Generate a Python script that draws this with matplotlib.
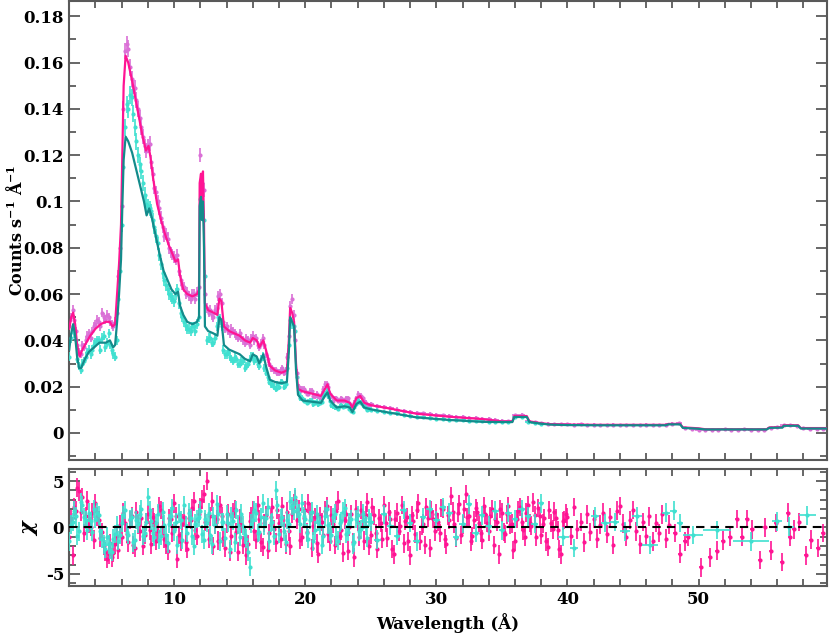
import numpy as np
import matplotlib.pyplot as plt
from matplotlib.ticker import MultipleLocator, FormatStrFormatter

plt.rcParams['font.family'] = ['DejaVu Serif']
plt.rcParams['font.weight'] = 'bold'
plt.rcParams['axes.labelweight'] = 'bold'
plt.rcParams['mathtext.fontset'] = 'dejavuserif'
plt.rcParams['axes.unicode_minus'] = False

# ===== colours =====
c_mdat = '#DA70D6'   # orchid data
c_mmod = '#FF1493'   # deep pink model
c_cdat = '#40E0D0'   # turquoise data
c_cmod = '#138B8B'   # teal model

# ===== model curves (wavelength, counts/s/A) =====
mod_m_wl = [2.0, 2.15, 2.3, 2.45, 2.6, 2.8, 3.0, 3.3, 3.6, 4.0, 4.4, 4.8, 5.1, 5.3, 5.5,
            5.65, 5.8, 5.95, 6.05, 6.15, 6.3, 6.5, 6.8, 7.0, 7.3, 7.6, 7.85, 8.05, 8.2,
            8.4, 8.7, 9.0, 9.3, 9.6, 9.9, 10.1, 10.3, 10.45, 10.7, 11.0, 11.4, 11.75,
            11.9, 11.95, 12.05, 12.12, 12.2, 12.28, 12.35, 12.6, 13.0, 13.3, 13.45, 13.6,
            13.8, 14.2, 14.6, 15.0, 15.4, 15.8, 16.0, 16.3, 16.5, 16.8, 17.0, 17.3, 17.7,
            18.2, 18.6, 18.75, 18.85, 19.0, 19.15, 19.3, 19.45, 19.8, 20.5, 21.2, 21.5,
            21.7, 21.9, 22.4, 23.0, 23.4, 23.6, 23.9, 24.2, 24.5, 25.0, 26.5, 28.5, 31.0,
            33.5, 35.0, 35.8, 35.95, 36.9, 37.1, 38.0, 38.7, 40.0, 42.5, 47.5, 47.7, 48.6,
            48.8, 50.0, 50.5, 55.2, 55.4, 56.4, 56.5, 57.6, 57.8, 59.8]
mod_m = [0.045, 0.050, 0.052, 0.047, 0.038, 0.033, 0.036, 0.039, 0.042, 0.045, 0.047, 0.048,
         0.048, 0.046, 0.047, 0.060, 0.073, 0.090, 0.120, 0.150, 0.163, 0.160, 0.152, 0.146,
         0.137, 0.128, 0.122, 0.124, 0.119, 0.110, 0.099, 0.092, 0.086, 0.081, 0.077, 0.074,
         0.075, 0.068, 0.062, 0.060, 0.059, 0.060, 0.062, 0.108, 0.112, 0.100, 0.113, 0.090,
         0.056, 0.053, 0.052, 0.051, 0.058, 0.057, 0.046, 0.044, 0.043, 0.042, 0.040, 0.039,
         0.041, 0.040, 0.037, 0.040, 0.036, 0.029, 0.027, 0.026, 0.027, 0.040, 0.054, 0.052,
         0.048, 0.030, 0.019, 0.018, 0.017, 0.016, 0.019, 0.021, 0.017, 0.014, 0.014, 0.013,
         0.011, 0.015, 0.016, 0.013, 0.012, 0.0105, 0.0083, 0.0070, 0.0060, 0.0050, 0.0050,
         0.0073, 0.0073, 0.0050, 0.0042, 0.0038, 0.0036, 0.0035, 0.0035, 0.0039, 0.0039,
         0.0024, 0.0020, 0.0016, 0.0016, 0.0024, 0.0025, 0.0033, 0.0033, 0.0021, 0.0021]

mod_c_wl = [2.0, 2.15, 2.3, 2.45, 2.6, 2.75, 2.9, 3.2, 3.5, 3.9, 4.3, 4.8, 5.1, 5.35, 5.5,
            5.65, 5.8, 5.95, 6.05, 6.15, 6.3, 6.5, 6.8, 7.1, 7.4, 7.7, 7.9, 8.1, 8.3, 8.6,
            8.9, 9.2, 9.5, 9.8, 10.1, 10.3, 10.45, 10.7, 11.0, 11.4, 11.75, 11.9, 11.95,
            12.05, 12.12, 12.2, 12.28, 12.35, 12.6, 13.0, 13.3, 13.45, 13.6, 13.8, 14.2,
            14.6, 15.0, 15.4, 15.8, 16.0, 16.3, 16.5, 16.8, 17.0, 17.3, 17.7, 18.2, 18.6,
            18.75, 18.85, 19.0, 19.15, 19.3, 19.45, 19.8, 20.5, 21.2, 21.5, 21.7, 21.9, 22.4,
            23.0, 23.4, 23.6, 23.9, 24.2, 24.5, 25.0, 26.5, 28.5, 31.0, 33.5, 35.0, 35.8,
            35.95, 36.9, 37.1, 38.0, 38.7, 40.0, 42.5, 47.5, 47.7, 48.6, 48.8, 50.0, 50.5,
            55.2, 55.4, 56.4, 56.5, 57.6, 57.8, 59.8]
mod_c = [0.036, 0.043, 0.047, 0.042, 0.033, 0.028, 0.028, 0.032, 0.035, 0.037, 0.039, 0.039,
         0.040, 0.037, 0.038, 0.048, 0.060, 0.075, 0.098, 0.118, 0.128, 0.126, 0.121, 0.114,
         0.107, 0.100, 0.094, 0.097, 0.093, 0.085, 0.077, 0.070, 0.066, 0.062, 0.060, 0.061,
         0.055, 0.051, 0.048, 0.047, 0.048, 0.050, 0.098, 0.102, 0.092, 0.100, 0.080, 0.046,
         0.044, 0.043, 0.042, 0.050, 0.049, 0.038, 0.036, 0.035, 0.034, 0.032, 0.031, 0.034,
         0.033, 0.030, 0.034, 0.029, 0.023, 0.022, 0.0215, 0.022, 0.035, 0.050, 0.048, 0.046,
         0.027, 0.0165, 0.014, 0.0135, 0.013, 0.016, 0.0175, 0.014, 0.011, 0.0115, 0.011,
         0.009, 0.0125, 0.0135, 0.011, 0.0102, 0.0087, 0.0067, 0.0056, 0.0048, 0.0047, 0.0047,
         0.0069, 0.0069, 0.0047, 0.0040, 0.0036, 0.0034, 0.0033, 0.0033, 0.0037, 0.0037,
         0.0022, 0.0018, 0.0015, 0.0015, 0.0022, 0.0023, 0.0031, 0.0031, 0.0019, 0.0019]

# ===== data points =====
wl_a = np.arange(2.0, 25.0, 0.25)       # bin centres, first set
wl_a2 = np.arange(2.125, 25.0, 0.25)    # interleaved set
dat_m_a = [0.046, 0.053, 0.044, 0.035,
           0.038, 0.040, 0.043, 0.044,
           0.047, 0.048, 0.052, 0.049,
           0.050, 0.047, 0.048, 0.068,
           0.098, 0.165, 0.166, 0.153,
           0.149, 0.140, 0.132, 0.124,
           0.124, 0.117, 0.106, 0.100,
           0.093, 0.085, 0.084, 0.078,
           0.076, 0.077, 0.066, 0.063,
           0.061, 0.058, 0.060, 0.061,
           0.120, 0.105, 0.054, 0.053,
           0.050, 0.054, 0.060, 0.048,
           0.046, 0.043, 0.044, 0.042,
           0.043, 0.040, 0.041, 0.038,
           0.042, 0.041, 0.037, 0.041,
           0.034, 0.030, 0.028, 0.027,
           0.026, 0.028, 0.027, 0.042,
           0.058, 0.040, 0.020, 0.019,
           0.018, 0.017, 0.018, 0.016,
           0.016, 0.017, 0.021, 0.020,
           0.016, 0.015, 0.014, 0.015,
           0.014, 0.015, 0.012, 0.013,
           0.017, 0.016, 0.014, 0.012]
dat_m_a2 = [0.050, 0.049, 0.038, 0.034,
            0.037, 0.042, 0.041, 0.046,
            0.049, 0.046, 0.050, 0.051,
            0.048, 0.046, 0.052, 0.080,
            0.140, 0.168, 0.158, 0.150,
            0.144, 0.136, 0.128, 0.122,
            0.125, 0.112, 0.104, 0.097,
            0.089, 0.086, 0.080, 0.077,
            0.075, 0.070, 0.064, 0.060,
            0.059, 0.060, 0.058, 0.063,
            0.108, 0.060, 0.052, 0.051,
            0.053, 0.059, 0.056, 0.045,
            0.044, 0.045, 0.043, 0.041,
            0.041, 0.039, 0.040, 0.041,
            0.040, 0.038, 0.039, 0.038,
            0.032, 0.028, 0.027, 0.026,
            0.027, 0.026, 0.033, 0.055,
            0.051, 0.026, 0.018, 0.019,
            0.017, 0.018, 0.016, 0.017,
            0.015, 0.019, 0.021, 0.017,
            0.014, 0.015, 0.014, 0.014,
            0.015, 0.013, 0.011, 0.015,
            0.016, 0.015, 0.013, 0.012]
dat_c_a = [0.033, 0.045, 0.040, 0.029,
           0.030, 0.033, 0.036, 0.036,
           0.039, 0.040, 0.041, 0.037,
           0.043, 0.036, 0.033, 0.058,
           0.090, 0.132, 0.140, 0.145,
           0.132, 0.120, 0.113, 0.103,
           0.098, 0.096, 0.089, 0.082,
           0.073, 0.066, 0.062, 0.059,
           0.057, 0.062, 0.052, 0.048,
           0.045, 0.044, 0.046, 0.047,
           0.101, 0.092, 0.040, 0.041,
           0.039, 0.046, 0.049, 0.036,
           0.034, 0.033, 0.031, 0.032,
           0.030, 0.031, 0.029, 0.032,
           0.033, 0.032, 0.029, 0.033,
           0.026, 0.022, 0.021, 0.019,
           0.020, 0.022, 0.021, 0.038,
           0.047, 0.044, 0.017, 0.015,
           0.014, 0.0135, 0.014, 0.013,
           0.0125, 0.0135, 0.017, 0.016,
           0.012, 0.011, 0.0105, 0.012,
           0.0115, 0.012, 0.0095, 0.011,
           0.014, 0.013, 0.0115, 0.010]
dat_c_a2 = [0.041, 0.043, 0.032, 0.027,
            0.031, 0.035, 0.034, 0.038,
            0.040, 0.036, 0.042, 0.039,
            0.038, 0.034, 0.040, 0.070,
            0.115, 0.142, 0.146, 0.138,
            0.126, 0.116, 0.108, 0.099,
            0.097, 0.092, 0.085, 0.077,
            0.069, 0.064, 0.060, 0.058,
            0.060, 0.056, 0.050, 0.046,
            0.045, 0.046, 0.044, 0.050,
            0.096, 0.068, 0.041, 0.039,
            0.041, 0.050, 0.046, 0.034,
            0.035, 0.032, 0.033, 0.030,
            0.031, 0.028, 0.030, 0.033,
            0.031, 0.030, 0.032, 0.028,
            0.024, 0.021, 0.020, 0.021,
            0.022, 0.020, 0.028, 0.049,
            0.046, 0.024, 0.015, 0.014,
            0.013, 0.014, 0.0125, 0.0135,
            0.013, 0.016, 0.018, 0.014,
            0.0115, 0.011, 0.0115, 0.0112,
            0.0118, 0.0105, 0.009, 0.0125,
            0.0135, 0.012, 0.0108, 0.0103]

wl_m_b = np.arange(25.0, 60.0, 0.5)     # 0.5 A bins
dat_m_b = [0.0124, 0.0117, 0.0112, 0.0106, 0.0101, 0.0095, 0.0091, 0.0088, 0.0084, 0.0082,
           0.0079, 0.0076, 0.0073, 0.0071, 0.0068, 0.0066, 0.0064, 0.0062, 0.0060, 0.0058,
           0.0053, 0.0051, 0.0076, 0.0079, 0.0052, 0.0047, 0.0043, 0.0040, 0.0039, 0.0038,
           0.0037, 0.0036, 0.0037, 0.0035, 0.0036, 0.0035, 0.0034, 0.0036, 0.0035, 0.0034,
           0.0035, 0.0034, 0.0036, 0.0035, 0.0034, 0.0036, 0.0040, 0.0041, 0.0022, 0.0019,
           0.0013, 0.0013, 0.0014, 0.0013, 0.0015, 0.0014, 0.0013, 0.0015, 0.0014, 0.0013,
           0.0014, 0.0022, 0.0027, 0.0034, 0.0033, 0.0030, 0.0020, 0.0019, 0.0018, 0.0019]
wl_c_b = np.arange(25.0, 38.25, 0.5)
dat_c_b = [0.0100, 0.0096, 0.0091, 0.0088, 0.0084, 0.0079, 0.0075, 0.0071, 0.0067, 0.0064,
           0.0062, 0.0060, 0.0058, 0.0056, 0.0054, 0.0052, 0.0051, 0.0050, 0.0049, 0.0048,
           0.0047, 0.0046, 0.0068, 0.0070, 0.0046, 0.0043, 0.0040]

# ===== residuals (chi) =====
rwl_m = np.arange(2.0, 48.0, 0.25)
res_m = [-1.0, -3.0, 1.8, 3.9, 3.3, 1.2, 0.4, 1.6,
         2.6, 0.8, -0.5, -2.6, -2.9, -3.2, -1.8, -2.4,
         -1.0, 0.5, -1.6, 1.2, -2.2, 0.3, 1.0, -0.8,
         1.4, -1.8, 0.6, -0.4, 1.9, -1.2, -2.5, 0.9,
         2.6, -3.4, -1.5, 1.1, -2.3, 0.8, 2.8, -0.9,
         2.2, 3.6, 5.0, 1.2, -2.0, 0.9, 2.4, -1.1,
         0.4, -2.6, 1.6, -0.5, 1.0, -1.9, -3.0, 0.7,
         1.8, -1.3, 0.9, -2.1, 1.3, -0.6, 2.2, -1.6,
         0.5, 2.3, -1.8, -0.4, 1.5, 3.0, 2.0, -1.0,
         1.9, 2.6, -2.2, 1.1, -2.8, 0.6, 1.8, -0.7,
         1.3, -1.9, 2.9, -0.3, 0.8, -2.5, 1.4, -3.2,
         0.6, 1.9, -1.4, 2.7, -0.8, 1.3, -2.3, 0.5,
         2.4, -1.1, 0.9, -2.9, 1.6, 0.2, -1.7, 1.1,
         -3.0, 0.7, 1.9, -1.4, 0.4, 2.2, -2.2, 0.9,
         1.5, -0.6, 2.0, -1.8, 0.8, 1.7, -1.1, 2.5,
         0.3, 3.6, 1.2, -0.9, 2.1, 0.5, -1.3, 1.4,
         -0.4, 2.0, 0.9, -2.9, 1.6, -0.7, 2.3, 0.4,
         -1.5, 1.8, 0.6, -1.0, 2.4, 0.2, 1.3, 2.1,
         -0.8, 1.0, -2.1, 0.5, 1.7, -0.3, -2.9, 0.8,
         1.1, -0.9, 2.2, -0.2, 0.6, -1.6, 1.4, -0.5,
         0.9, -1.2, 0.3, 1.6, -0.7, 1.1, -1.9, 1.8,
         2.3, 0.4, -1.0, 0.8, 1.9, -0.4, -1.8, 0.6,
         -0.9, 1.2, -1.5, 0.5, -0.6, 1.4, -1.2, 0.3]
rwl_m2 = np.arange(2.125, 40.0, 0.25)
res_m2 = [0.9, 2.2, 4.3, 1.7, -0.6, 2.9, 0.1, -1.3,
          1.2, -1.1, -2.0, -3.4, -1.7, -2.7, -0.9, 0.3,
          1.6, -0.7, 0.8, -1.9, 1.7, -0.4, -2.0, 0.6,
          -0.3, 1.1, -1.4, 2.3, 0.2, -1.9, 1.0, -0.6,
          1.2, -0.8, 0.4, -1.6, 1.0, 2.1, -0.3, 1.5,
          3.0, 0.6, -1.2, 2.8, 0.3, -1.4, 1.2, -2.2,
          1.5, -0.9, 2.0, -2.6, 0.4, -1.1, -1.8, 1.2,
          -0.4, 2.4, -1.6, 0.5, -2.4, 1.1, -0.2, 1.9,
          -1.2, 0.3, 1.7, -2.0, 2.6, 0.8, -1.3, 1.0,
          -0.5, 1.6, 0.2, -1.7, 1.2, -0.8, 2.3, -1.5,
          0.4, 1.8, -0.9, -2.7, 1.5, 0.1, -1.6, 2.0,
          -1.0, 0.8, 1.3, -2.0, 2.2, -0.6, 1.0, -1.2,
          0.5, 1.7, -2.3, 0.9, -0.4, 2.4, 0.7, -1.5,
          1.3, -0.7, 2.6, 0.2, -1.9, 1.0, 1.8, -0.4,
          0.6, 2.1, -1.2, 1.3, 3.4, 0.4, 1.6, -0.8,
          2.0, 1.1, -1.5, 0.8, 1.7, -0.6, 2.3, 0.5,
          1.2, -1.9, 0.6, 2.0, -0.5, 1.4, 0.3, -2.4,
          0.9, 2.2, -0.3, 1.6, 0.5, 2.7, -1.0, 1.2,
          0.4, -1.5, 1.9, -0.2, 1.0, -2.3, 0.7, 1.5]
# sparse long-wavelength bins
rwl_m_tail = [48.2, 48.6, 48.95, 49.2, 50.2, 50.9, 51.4, 51.85, 52.4, 52.9, 53.3, 53.7, 54.1,
              54.7, 55.1, 55.5, 55.9, 56.4, 56.8, 57.0, 57.3, 57.7, 58.2, 58.6, 59.1, 59.5]
res_m_tail = [-0.6, -2.8, -1.5, -1.0, -4.3, -3.2, -2.5, -1.4, -1.0, 0.9, -1.0, 0.9, -0.2,
              -3.5, 0.0, -2.5, 0.5, -3.7, 1.6, -1.0, -0.2, 0.6, -3.0, -1.3, -2.2, -0.6]

res_c_a = [-1.5, 0.6, 1.2, -0.4, 2.4, 0.8, 1.6, -0.5,
           0.9, 1.3, -1.2, -2.3, -1.8, -2.6, -0.7, -1.4,
           0.5, 1.9, -0.8, 1.1, -1.3, 0.4, 2.0, -0.6,
           3.3, 0.7, -1.0, 1.5, -0.9, 0.3, -1.7, 1.2,
           -0.4, -1.9, 0.8, 2.4, -0.6, 1.0, -2.0, 0.9,
           1.8, -1.3, 0.5, -0.8, 1.2, 2.5, -1.5, 0.6,
           1.4, -2.3, 0.7, 1.9, -1.0, 0.2, -1.2, -4.2,
           0.8, 1.6, -0.5, 2.6, 1.0, -1.4, 0.6, 4.0,
           -0.7, 1.1, -1.6, 0.4, 2.3, 3.3, 1.5, 2.6,
           0.9, -1.2, 1.7, -0.3, 0.6, -1.9, 1.2, 0.3,
           -0.8, 1.5, -1.4, 0.7, 2.1, -0.5, 0.9, -1.6,
           1.3, -0.2, 0.8, -1.1]
res_c_a2 = [0.3, 1.8, -0.9, 2.7, 1.1, -0.3, 0.7, 2.0,
            1.6, -0.4, -1.8, -1.0, -2.4, -1.2, 0.2, -0.8,
            1.3, -0.5, 0.9, -1.6, 0.8, 1.4, -0.9, 0.6,
            1.9, -0.6, 0.5, -1.3, 1.7, -0.8, 0.4, 2.1,
            0.6, 1.5, -1.3, 0.2, 1.6, -0.9, 0.4, 1.1,
            -0.7, 0.9, 1.6, -1.8, 0.3, 1.4, 0.6, -1.1,
            0.5, 1.2, -1.6, 0.3, 1.5, -0.8, -2.6, 0.4,
            1.9, -0.6, 1.1, 0.2, 2.2, 0.5, -0.9, 2.4,
            1.0, -0.4, 0.8, 2.9, 1.8, 2.0, 0.4, 1.2,
            -0.6, 0.8, -1.5, 1.4, 0.2, -0.9, 2.0, -0.4,
            1.1, -1.0, 0.5, 1.7, -0.7, 0.6, -1.8, 0.9,
            -0.4, 1.5, 0.2, 1.0]
res_c_b = [0.6, -1.3, 1.4, 0.2, -0.9, 1.9, 0.5, -1.5, 1.1, 2.0,
           0.8, 2.2, 1.6, -1.0, 0.4, 2.5, -0.6, 1.3, 0.2, 1.8,
           -0.3, 1.6, 0.9, 2.0, 1.2, 0.4, 2.6]
# wide grouped bins: centre, half width, chi
rwl_c_wide = [39.7, 40.5, 42.1, 42.9, 43.6, 44.4, 45.3, 46.3, 47.5, 48.1, 48.6, 49.6, 51.4,
              54.0, 56.0, 56.9, 58.3]
hw_c_wide = [0.4, 0.3, 0.3, 0.35, 0.35, 0.4, 0.4, 0.6, 0.3, 0.25, 0.25, 0.75, 1.05,
             1.35, 0.4, 0.4, 0.65]
res_c_wide = [-1.0, -2.2, 1.2, 0.5, 0.6, -0.4, 1.2, -1.9, 1.6, 1.8, 0.5, -0.8, -0.25,
              -1.5, 0.65, 0.1, 1.3]

# ===== figure =====
fig = plt.figure(figsize=(8.3, 6.36), dpi=100)
ax1 = fig.add_axes([0.0831, 0.2767, 0.9133, 0.7213])
ax2 = fig.add_axes([0.0831, 0.0786, 0.9133, 0.1840])

eb = dict(fmt='o', ms=2, elinewidth=1.2, capsize=0)

# top panel: data (poisson-like errors) then models
for x, y, hw in [(wl_a, dat_m_a, 0.0625), (wl_a2, dat_m_a2, 0.0625), (wl_m_b, dat_m_b, 0.25)]:
    y = np.asarray(y)
    ax1.errorbar(x, y, yerr=0.009*np.sqrt(y), xerr=hw, color=c_mdat, zorder=2, **eb)
for x, y, hw in [(wl_a, dat_c_a, 0.0625), (wl_a2, dat_c_a2, 0.0625), (wl_c_b, dat_c_b, 0.25)]:
    y = np.asarray(y)
    ax1.errorbar(x, y, yerr=0.010*np.sqrt(y), xerr=hw, color=c_cdat, zorder=3, **eb)
ax1.plot(mod_m_wl, mod_m, color=c_mmod, lw=1.6, zorder=4)
ax1.plot(mod_c_wl, mod_c, color=c_cmod, lw=1.6, zorder=5)

# bottom panel: residuals
for x, r, hw in [(rwl_m, res_m, 0.0625), (rwl_m2, res_m2, 0.0625), (rwl_m_tail, res_m_tail, 0.15)]:
    ax2.errorbar(x, r, yerr=1.0, xerr=hw, color=c_mmod, zorder=2, **eb)
for x, r, hw in [(wl_a, res_c_a, 0.0625), (wl_a2, res_c_a2, 0.0625), (wl_c_b, res_c_b, 0.25),
                 (rwl_c_wide, res_c_wide, hw_c_wide)]:
    ax2.errorbar(x, r, yerr=1.0, xerr=hw, color=c_cdat, zorder=3, **eb)
ax2.axhline(0, color='black', ls=(0, (4, 3)), lw=1.5, zorder=4)

for ax in (ax1, ax2):
    ax.set_xlim(1.98, 59.8)
    ax.xaxis.set_major_locator(MultipleLocator(10))
    ax.xaxis.set_minor_locator(MultipleLocator(2))
    ax.tick_params(which='both', direction='in', top=True, right=True, labelsize=12,
                   color='0.3', width=1.2)
    ax.tick_params(axis='x', which='both', length=5)
    ax.tick_params(axis='y', which='major', length=8)
    ax.tick_params(axis='y', which='minor', length=5)
    for s in ax.spines.values():
        s.set_color('0.35')
        s.set_linewidth(1.5)

ax1.set_ylim(-0.0117, 0.1865)
ax1.yaxis.set_major_locator(MultipleLocator(0.02))
ax1.yaxis.set_minor_locator(MultipleLocator(0.01))
ax1.yaxis.set_major_formatter(FormatStrFormatter('%g'))
ax1.tick_params(axis='x', labelbottom=False)
ax1.set_ylabel(r'Counts s$^{\mathbf{-1}}$ Å$^{\mathbf{-1}}$', fontsize=11.5)
ax1.yaxis.set_label_coords(-0.057, 0.5)

ax2.set_ylim(-6.3, 6.3)
ax2.yaxis.set_major_locator(MultipleLocator(5))
ax2.yaxis.set_minor_locator(MultipleLocator(1))
ax2.set_ylabel(r'$\chi$', fontsize=15)
ax2.yaxis.set_label_coords(-0.038, 0.5)
ax2.set_xlabel('Wavelength (Å)', fontsize=12)

fig.savefig('out.png', dpi=100)
